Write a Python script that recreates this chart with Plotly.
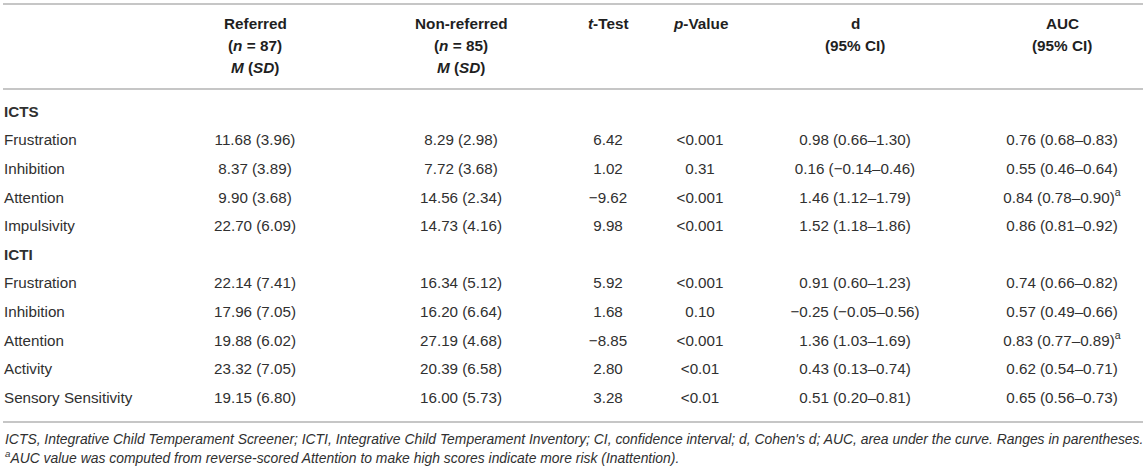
import plotly.graph_objects as go

# Table values
icts_items = ["Frustration", "Inhibition", "Attention", "Impulsivity"]
icti_items = ["Frustration", "Inhibition", "Attention", "Activity", "Sensory Sensitivity"]
n_referred = 87
n_nonreferred = 85

referred_m = [11.68, 8.37, 9.90, 22.70, 22.14, 17.96, 19.88, 23.32, 19.15]
referred_sd = [3.96, 3.89, 3.68, 6.09, 7.41, 7.05, 6.02, 7.05, 6.80]
nonref_m = [8.29, 7.72, 14.56, 14.73, 16.34, 16.20, 27.19, 20.39, 16.00]
nonref_sd = [2.98, 3.68, 2.34, 4.16, 5.12, 6.64, 4.68, 6.58, 5.73]
t_test = [6.42, 1.02, -9.62, 9.98, 5.92, 1.68, -8.85, 2.80, 3.28]
p_value = ["<0.001", "0.31", "<0.001", "<0.001", "<0.001", "0.10", "<0.001", "<0.01", "<0.01"]
d_val = [0.98, 0.16, 1.46, 1.52, 0.91, -0.25, 1.36, 0.43, 0.51]
d_lo = [0.66, -0.14, 1.12, 1.18, 0.60, -0.05, 1.03, 0.13, 0.20]
d_hi = [1.30, 0.46, 1.79, 1.86, 1.23, 0.56, 1.69, 0.74, 0.81]
auc_val = [0.76, 0.55, 0.84, 0.86, 0.74, 0.57, 0.83, 0.62, 0.65]
auc_lo = [0.68, 0.46, 0.78, 0.81, 0.66, 0.49, 0.77, 0.54, 0.56]
auc_hi = [0.83, 0.64, 0.90, 0.92, 0.82, 0.66, 0.89, 0.71, 0.73]
auc_reversed = [False, False, True, False, False, False, True, False, False]

footnote_1 = ("ICTS, Integrative Child Temperament Screener; ICTI, Integrative Child Temperament "
              "Inventory; CI, confidence interval; d, Cohen's d; AUC, area under the curve. "
              "Ranges in parentheses.")
footnote_2 = "AUC value was computed from reverse-scored Attention to make high scores indicate more risk (Inattention)."

# layout (pixels)
W, H = 1146, 471
FONT = "Liberation Sans"
TXT = "#303030"
HEAD = "#1f1f1f"
RULE = "#c6c6c6"
SIZE = 15.2
col_x = {"label": 4, "ref": 255, "nonref": 461, "t": 608, "p": 700, "d": 855, "auc": 1062}
row0_px, row_pitch = 113, 28.6


def fmt(v):
    return f"{v:.2f}".replace("-", "\u2212")


def px_to_y(p):
    return (p - row0_px) / row_pitch


# build the rows: section headers and item rows share one row index
labels, label_y, item_y = [], [], []
ref_txt, non_txt, t_txt, p_txt, d_txt, auc_txt = [], [], [], [], [], []
k = 0
for scale, items in (("ICTS", icts_items), ("ICTI", icti_items)):
    label_y.append(len(labels))
    labels.append(f"<b>{scale}</b>")
    for item in items:
        label_y.append(len(labels))
        item_y.append(len(labels))
        labels.append(item)
        ref_txt.append(f"{fmt(referred_m[k])} ({fmt(referred_sd[k])})")
        non_txt.append(f"{fmt(nonref_m[k])} ({fmt(nonref_sd[k])})")
        t_txt.append(fmt(t_test[k]))
        p_txt.append(p_value[k])
        d_txt.append(f"{fmt(d_val[k])} ({fmt(d_lo[k])}\u2013{fmt(d_hi[k])})")
        a = f"{fmt(auc_val[k])} ({fmt(auc_lo[k])}\u2013{fmt(auc_hi[k])})"
        if auc_reversed[k]:
            a += "<sup>a</sup>"
        auc_txt.append(a)
        k += 1

fig = go.Figure()
fig.add_trace(go.Scatter(x=[col_x["label"]] * len(labels), y=label_y, text=labels, mode="text",
                         textposition="middle right", hoverinfo="skip",
                         textfont=dict(family=FONT, size=SIZE, color=TXT)))
for key, vals in (("ref", ref_txt), ("nonref", non_txt), ("t", t_txt), ("p", p_txt),
                  ("d", d_txt), ("auc", auc_txt)):
    fig.add_trace(go.Scatter(x=[col_x[key]] * len(vals), y=item_y, text=vals, mode="text",
                             textposition="middle center", hoverinfo="skip",
                             textfont=dict(family=FONT, size=SIZE, color=TXT)))

# header
header = {
    "ref": ["Referred", f"(<i>n</i> = {n_referred})", "<i>M</i> (<i>SD</i>)"],
    "nonref": ["Non-referred", f"(<i>n</i> = {n_nonreferred})", "<i>M</i> (<i>SD</i>)"],
    "t": ["<i>t</i>-Test"],
    "p": ["<i>p</i>-Value"],
    "d": ["d", "(95% CI)"],
    "auc": ["AUC", "(95% CI)"],
}
header_px = [23, 45.5, 67]
for key, lines in header.items():
    for i, line in enumerate(lines):
        fig.add_annotation(x=col_x[key], y=px_to_y(header_px[i]), xref="x", yref="y",
                           text=f"<b>{line}</b>", showarrow=False, xanchor="center",
                           yanchor="middle", font=dict(family=FONT, size=15.3, color=HEAD))

# rules
for p in (4, 89, 422):
    fig.add_shape(type="line", xref="x", yref="y", x0=3, x1=1143, y0=px_to_y(p), y1=px_to_y(p),
                  line=dict(color=RULE, width=2))

# footnotes
fig.add_annotation(x=3, y=px_to_y(439), xref="x", yref="y", text=f"<i>{footnote_1}</i>",
                   showarrow=False, xanchor="left", yanchor="middle",
                   font=dict(family=FONT, size=13.9, color=TXT))
fig.add_annotation(x=3, y=px_to_y(457), xref="x", yref="y",
                   text=f"<i><sup>a</sup>{footnote_2}</i>",
                   showarrow=False, xanchor="left", yanchor="middle",
                   font=dict(family=FONT, size=13.9, color=TXT))

fig.update_xaxes(range=[0, W], visible=False, fixedrange=True)
fig.update_yaxes(range=[px_to_y(H), px_to_y(0)], visible=False, fixedrange=True)
fig.update_layout(width=W, height=H, margin=dict(l=0, r=0, t=0, b=0),
                  paper_bgcolor="white", plot_bgcolor="white", showlegend=False)

# drop the browser's default body margin so the figure sits at the page corner
fig.write_html("out.html", config={"displayModeBar": False},
               post_script="document.body.style.margin='0';document.body.style.overflow='hidden';")
